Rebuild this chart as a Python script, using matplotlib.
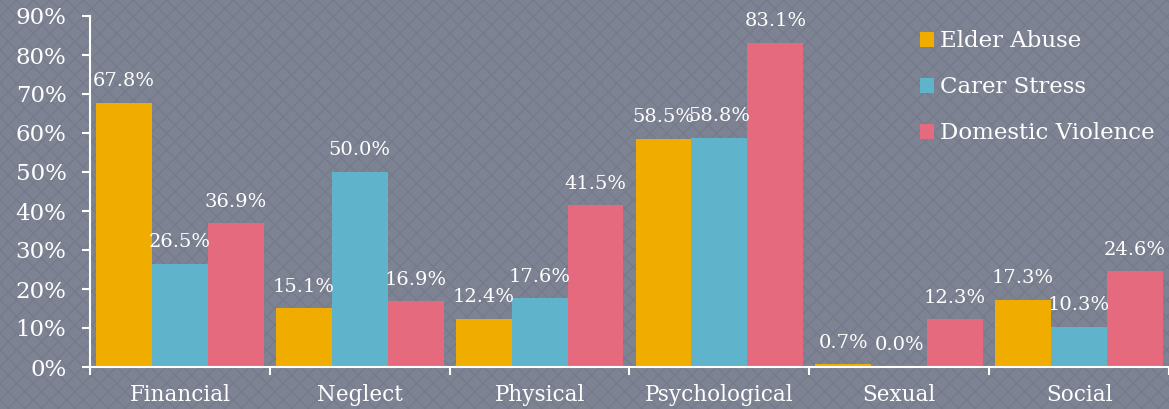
import numpy as np
import matplotlib
matplotlib.use("Agg")
import matplotlib.pyplot as plt
from matplotlib.patches import Rectangle
from matplotlib.ticker import FixedLocator, PercentFormatter

# data (percent)
categories = ["Financial", "Neglect", "Physical", "Psychological", "Sexual", "Social"]
elder_abuse = [67.8, 15.1, 12.4, 58.5, 0.7, 17.3]
carer_stress = [26.5, 50.0, 17.6, 58.8, 0.0, 10.3]
domestic_violence = [36.9, 16.9, 41.5, 83.1, 12.3, 24.6]

series = {
    "Elder Abuse": (elder_abuse, "#f0ad00"),
    "Carer Stress": (carer_stress, "#5fb4cc"),
    "Domestic Violence": (domestic_violence, "#e66a7e"),
}

plt.rcParams["font.family"] = ["DejaVu Serif"]
plt.rcParams["hatch.linewidth"] = 1.0
bg = "#7e8394"

fig = plt.figure(figsize=(11.69, 4.09), dpi=100)
fig.patch.set_facecolor(bg)
# rough stand-in for the diamond pattern in the background
fig.patches.append(Rectangle((0, 0), 1, 1, transform=fig.transFigure,
                             facecolor=bg, edgecolor="#767b8b", hatch="xx",
                             linewidth=0, zorder=-10))

ax = fig.add_axes([90 / 1169, 1 - 367 / 409, 1 - 90 / 1169, (367 - 16) / 409])
ax.patch.set_alpha(0)

x = np.arange(len(categories))
width = 0.311
for i, (name, (vals, color)) in enumerate(series.items()):
    bars = ax.bar(x + (i - 1) * width, vals, width, color=color, label=name)
    for b, v in zip(bars, vals):
        ax.annotate(f"{v:.1f}%", (b.get_x() + b.get_width() / 2, v),
                    xytext=(0, 9), textcoords="offset points",
                    ha="center", va="bottom", color="white", fontsize=14)

ax.set_xlim(-0.5, len(categories) - 0.5)
ax.set_ylim(0, 90)
ax.yaxis.set_major_locator(FixedLocator(np.arange(0, 91, 10)))
ax.yaxis.set_major_formatter(PercentFormatter(decimals=0))

ax.set_xticks(x)
ax.set_xticklabels(categories)
ax.xaxis.set_minor_locator(FixedLocator(np.arange(-0.5, len(categories), 1)))
ax.tick_params(axis="x", which="major", length=0, pad=12, labelsize=15.5, colors="white")
ax.tick_params(axis="x", which="minor", length=6, width=1.5, color="white")
ax.tick_params(axis="y", length=6, width=1.5, colors="white", labelsize=16.5, pad=11)

for side in ["top", "right"]:
    ax.spines[side].set_visible(False)
for side in ["left", "bottom"]:
    ax.spines[side].set_color("white")
    ax.spines[side].set_linewidth(1.5)

leg = ax.legend(loc="upper left", bbox_to_anchor=(0.750, 1.018), frameon=False,
                fontsize=16.5, labelcolor="white", handlelength=0.6, handleheight=0.6,
                handletextpad=0.3, labelspacing=1.05)

fig.savefig("out.png", dpi=100, facecolor=fig.get_facecolor())
